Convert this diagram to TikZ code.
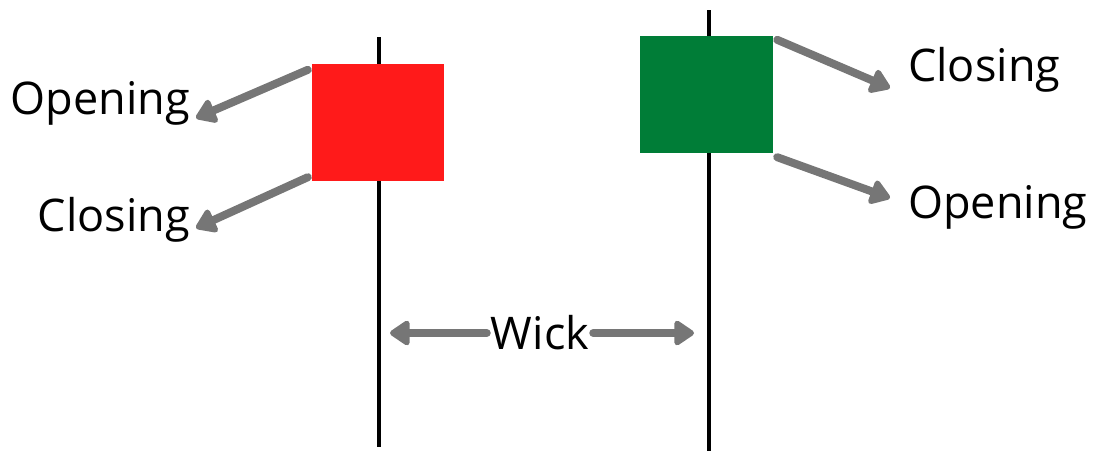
\documentclass[tikz,border=0pt]{standalone}
\usepackage{fontspec}
\setmainfont{Open Sans}
\usetikzlibrary{arrows.meta}
\definecolor{candlered}{RGB}{255,26,26}
\definecolor{candlegreen}{RGB}{0,125,55}
\definecolor{arrowgray}{RGB}{118,118,118}
\tikzset{
    pointer/.style={draw=arrowgray, line width=8pt, line cap=round,
        -{Triangle[length=22pt,width=28pt,round]}},
    label/.style={font=\fontsize{45}{52}\selectfont, inner sep=0pt}
}

\begin{document}
\begin{tikzpicture}[x=1pt,y=-1pt]
                    \useasboundingbox (0,0) rectangle (1094,451);

                    % wicks
                    \draw[line width=4pt] (379,37) -- (379,447);
                    \draw[line width=4pt] (709,10) -- (709,451);

                    % bodies
                    \node[fill=candlered, minimum width=132pt, minimum height=117pt, inner sep=0pt] (redbody) at (378,122.5) {};
                    \node[fill=candlegreen, minimum width=133pt, minimum height=117pt, inner sep=0pt] (greenbody) at (706.5,94.5) {};

                    % labels
                    \node[label, anchor=base east] (redopen) at (190,114) {Opening};
                    \node[label, anchor=base east] (redclose) at (190,231) {Closing};
                    \node[label, anchor=base west] (greenclose) at (908,81) {Closing};
                    \node[label, anchor=base west] (greenopen) at (908,218) {Opening};
                    \node[label, anchor=center] (wick) at (540,333) {Wick};

                    % pointers
                    \coordinate (redopentip) at (196,118);
                    \coordinate (redclosetip) at (196,228);
                    \coordinate (greenclosetip) at (890,88);
                    \coordinate (greenopentip) at (890,198);
                    \coordinate (lefttip) at (390,333);
                    \coordinate (righttip) at (694,333);

                    \draw[pointer] ([xshift=-4pt,yshift=-6pt]redbody.north west) -- (redopentip);
                    \draw[pointer] ([xshift=-4pt,yshift=4pt]redbody.south west) -- (redclosetip);
                    \draw[pointer] ([xshift=4pt,yshift=-4pt]greenbody.north east) -- (greenclosetip);
                    \draw[pointer] ([xshift=4pt,yshift=-4pt]greenbody.south east) -- (greenopentip);
                    \draw[pointer] ([xshift=-4pt]wick.west) -- (lefttip);
                    \draw[pointer] ([xshift=4pt]wick.east) -- (righttip);

                \end{tikzpicture}
\end{document}
